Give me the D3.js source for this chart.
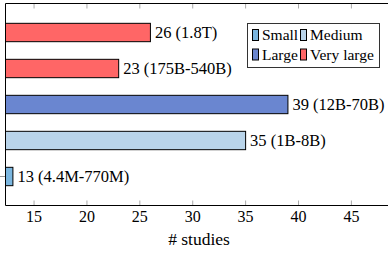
<!DOCTYPE html>
<html><head><meta charset="utf-8">
<script src="https://cdn.jsdelivr.net/npm/d3@7"></script>
<style>html,body{margin:0;padding:0;background:#fff;} svg{display:block;}</style>
</head><body>
<svg id="c" width="388" height="255"></svg>
<script>
const labels = ["26 (1.8T)", "23 (175B-540B)", "39 (12B-70B)", "35 (1B-8B)", "13 (4.4M-770M)"];
const values = [26, 23, 39, 35, 13];
const groups = ["Very large", "Very large", "Large", "Medium", "Small"];
const legendNames = ["Small", "Medium", "Large", "Very large"];
const legendColors = ["#7bb6df", "#b9d4ea", "#6a86d0", "#ff6666"];
const xTicks = [15, 20, 25, 30, 35, 40, 45];

(function () {
const svg = d3.select("#c");
const FONT = "Liberation Serif";
const pL = 5.5, pR = 399, pT = 3.5, pB = 205.5;
const x = d3.scaleLinear().domain([12.3, 49.5]).range([pL, pR]);
const y = d3.scaleBand().domain(d3.range(values.length)).range([14.5, 194.5]).paddingInner(0.49).paddingOuter(0.245);
const color = d3.scaleOrdinal().domain(legendNames).range(legendColors);

const g = svg.append("g");
g.selectAll("line.tb").data(xTicks).join("line")
  .attr("x1", d => x(d)).attr("x2", d => x(d)).attr("y1", pB).attr("y2", pB - 5)
  .attr("stroke", "#aaa").attr("stroke-width", 1);
g.selectAll("line.tt").data(xTicks).join("line")
  .attr("x1", d => x(d)).attr("x2", d => x(d)).attr("y1", pT).attr("y2", pT + 5)
  .attr("stroke", "#aaa").attr("stroke-width", 1);

svg.selectAll("rect.bar").data(values).join("rect")
  .attr("x", pL).attr("y", (d, i) => y(i))
  .attr("width", d => x(d) - pL).attr("height", y.bandwidth())
  .attr("fill", (d, i) => color(groups[i])).attr("stroke", "#000").attr("stroke-width", 1);

svg.append("line").attr("x1", 0).attr("x2", pL).attr("y1", y(4) + y.bandwidth() / 2).attr("y2", y(4) + y.bandwidth() / 2)
  .attr("stroke", "#999").attr("stroke-width", 1);

svg.selectAll("text.lab").data(values).join("text")
  .attr("x", d => x(d) + 4.5).attr("y", (d, i) => y(i) + y.bandwidth() / 2)
  .attr("dy", "0.35em").attr("font-family", FONT).attr("font-size", 16.5).attr("fill", "#000")
  .text((d, i) => labels[i]);

svg.append("path").attr("d", `M${pR},${pT}H${pL}V${pB}H${pR}`)
  .attr("fill", "none").attr("stroke", "#000").attr("stroke-width", 1);

svg.selectAll("text.tk").data(xTicks).join("text")
  .attr("x", d => x(d)).attr("y", 221.5).attr("text-anchor", "middle")
  .attr("font-family", FONT).attr("font-size", 16).text(d => d);

svg.append("text").attr("x", 199).attr("y", 245).attr("text-anchor", "middle")
  .attr("font-family", FONT).attr("font-size", 17.5).text("# studies");

const lg = svg.append("g");
lg.append("rect").attr("x", 247.5).attr("y", 23.5).attr("width", 132).attr("height", 44)
  .attr("fill", "#fff").attr("stroke", "#333").attr("stroke-width", 1);
const lx = [252.5, 300.5], ly = [35, 54.5];
legendNames.forEach((n, i) => {
  const cx = lx[i % 2], cy = ly[Math.floor(i / 2)];
  lg.append("rect").attr("x", cx).attr("y", cy - 5.5).attr("width", 6).attr("height", 11)
    .attr("fill", legendColors[i]).attr("stroke", "#000").attr("stroke-width", 1);
  lg.append("text").attr("x", cx + 9.5).attr("y", cy).attr("dy", "0.35em")
    .attr("font-family", FONT).attr("font-size", 15.5).text(n);
});
})();
</script>
</body></html>
